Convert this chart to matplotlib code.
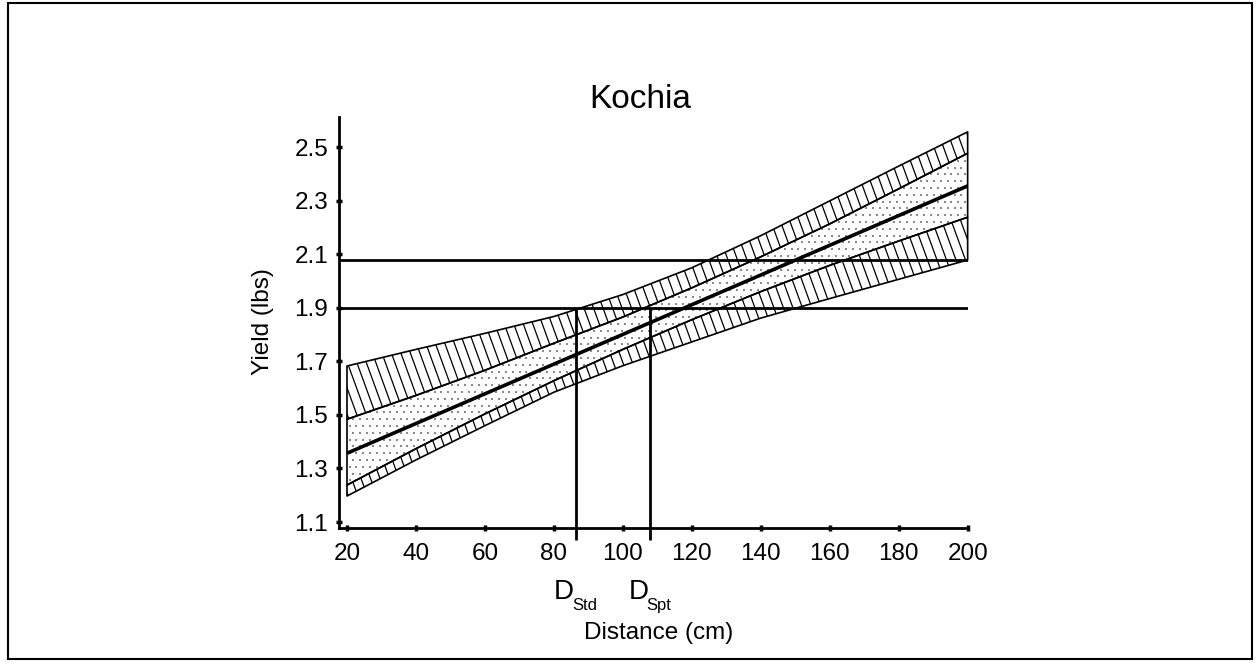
"""
Kochia: rendimiento vs distancia, con bandas de confianza y prediccion
"""
import numpy as np
import matplotlib
matplotlib.use("Agg")
import matplotlib.pyplot as plt
from matplotlib.collections import LineCollection
from matplotlib.patches import Rectangle

plt.rcParams['font.family'] = ['Liberation Sans', 'DejaVu Sans']

# datos
dist = [20, 40, 60, 80, 100, 120, 140, 160, 180, 200]
yield_fit = [1.357, 1.468, 1.579, 1.690, 1.801, 1.912, 2.023, 2.134, 2.245, 2.356]
ci_upper = [1.484, 1.573, 1.667, 1.768, 1.866, 1.975, 2.091, 2.214, 2.345, 2.478]
ci_lower = [1.238, 1.374, 1.504, 1.628, 1.745, 1.856, 1.961, 2.059, 2.150, 2.239]
pi_upper = [1.683, 1.745, 1.805, 1.868, 1.950, 2.050, 2.170, 2.300, 2.430, 2.558]
pi_lower = [1.197, 1.332, 1.460, 1.585, 1.684, 1.773, 1.862, 1.935, 2.007, 2.079]

thresholds = [2.08, 1.90]
d_values = [86.3, 107.9]
d_names = ['Std', 'Spt']

x_ticks = [20, 40, 60, 80, 100, 120, 140, 160, 180, 200]
y_ticks = [1.1, 1.3, 1.5, 1.7, 1.9, 2.1, 2.3, 2.5]

W, H = 1260, 665
fig = plt.figure(figsize=(W / 100, H / 100), dpi=100)
ax = fig.add_axes([339.3 / W, 1 - 528 / H, 628.7 / W, 411.3 / H])
ax.set_xlim(17.77, 200.1)
ax.set_ylim(1.0776, 2.6146)

x0, x1 = ax.get_xlim()
y0, y1 = ax.get_ylim()
sx = 628.7 / (x1 - x0)   # px por unidad x
sy = 411.3 / (y1 - y0)   # px por unidad y


def hatch_band(lo, hi, spacing_px=9.5, angle=70):
    poly = ax.fill_between(dist, lo, hi, facecolor='none', edgecolor='black',
                           lw=1.2, clip_on=False, zorder=3)
    path = poly.get_paths()[0]
    dx = (y1 - y0) * sy / (np.tan(np.radians(angle)) * sx)
    segs = [[(xk, y1), (xk + dx, y0)]
            for xk in np.arange(x0 - dx - 5, x1 + 5, spacing_px / sx)]
    lc = LineCollection(segs, colors='black', linewidths=0.9, zorder=2)
    ax.add_collection(lc, autolim=False)
    lc.set_clip_path(path, ax.transData)


def stipple_band(lo, hi, step_px=6.8):
    poly = ax.fill_between(dist, lo, hi, facecolor='none', edgecolor='black',
                           lw=1.2, clip_on=False, zorder=3)
    path = poly.get_paths()[0]
    xs = np.arange(x0, x1, step_px / sx)
    ys = np.arange(y0, y1, step_px / sy)
    px, py = [], []
    for i, yv in enumerate(ys):
        shift = (step_px / sx) / 2 if i % 2 else 0
        px.extend(xs + shift)
        py.extend([yv] * len(xs))
    sc = ax.scatter(px, py, s=1.3, c='#8a8a8a', marker='s', linewidths=0, zorder=2)
    sc.set_clip_path(path, ax.transData)


hatch_band(ci_upper, pi_upper)
hatch_band(pi_lower, ci_lower)
stipple_band(ci_lower, ci_upper)

ax.plot(dist, yield_fit, color='black', lw=2.6, zorder=4, solid_capstyle='butt')

for t in thresholds:
    ax.axhline(t, color='black', lw=2, zorder=4)

for d in d_values:
    ax.vlines(d, y0 - 12 / sy, thresholds[1], color='black', lw=2,
              clip_on=False, zorder=4)

# etiquetas D
for d, name in zip(d_values, d_names):
    ax.annotate('D', xy=(d, 0), xycoords=('data', 'axes fraction'),
                xytext=(-1, -51), textcoords='offset points',
                ha='right', va='baseline', fontsize=20)
    ax.annotate(name, xy=(d, 0), xycoords=('data', 'axes fraction'),
                xytext=(-2.5, -59), textcoords='offset points',
                ha='left', va='baseline', fontsize=12)

ax.set_xticks(x_ticks)
ax.set_yticks(y_ticks)
ax.set_xticklabels([str(v) for v in x_ticks])
ax.set_yticklabels([f'{v:.1f}' for v in y_ticks])
ax.tick_params(direction='inout', length=4, width=2.5, labelsize=17.5)
ax.tick_params(axis='x', pad=8.5)
ax.tick_params(axis='y', pad=6)

for s in ['top', 'right']:
    ax.spines[s].set_visible(False)
for s in ['left', 'bottom']:
    ax.spines[s].set_linewidth(2)

fig.text(640 / W, 1 - 100 / H, 'Kochia', ha='center', va='center', fontsize=24)
fig.text(263 / W, 1 - 322 / H, 'Yield (lbs)', ha='center', va='center',
         rotation=90, fontsize=17.5)
fig.text(659 / W, 1 - 639.3 / H, 'Distance (cm)', ha='center', va='baseline',
         fontsize=17.5)

fig.patches.append(Rectangle((8 / W, 1 - 659 / H), 1244 / W, 656 / H,
                             transform=fig.transFigure, fill=False,
                             edgecolor='black', lw=1.5))

fig.savefig('out.png', dpi=100)
plt.close()
